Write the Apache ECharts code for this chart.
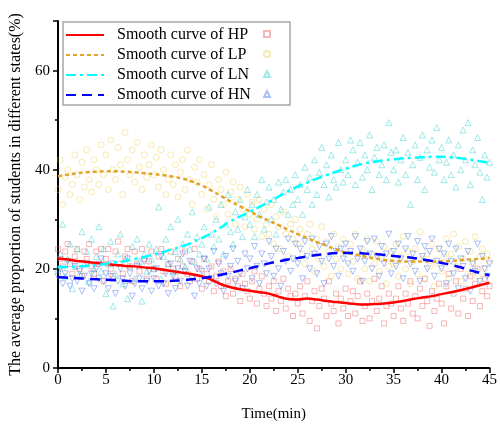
<!DOCTYPE html>
<html>
<head>
<meta charset="utf-8">
<script src="https://cdn.jsdelivr.net/npm/echarts@6/dist/echarts.min.js"></script>
<style>html,body{margin:0;padding:0;background:#fff}#c{width:500px;height:427px}</style>
</head>
<body>
<div id="c"></div>
<script>
// ---- data ----
const sampleStep = 0.25; // minutes between scatter samples (t = 0 ... 45)
const xTicks = [0, 5, 10, 15, 20, 25, 30, 35, 40, 45];
const yTicks = [0, 20, 40, 60];

const hpPoints = [
 24,22,20.5,23.5,25,21,19,22.5,24,20,18.5,23.5,22,25,20.5,19,23.5,21,24,17.5,
 22,24,20,18.5,23.5,25.5,21,19,22.5,24,20.5,17.5,23.5,21,19.5,24,22,18,21.5,23.5,
 20,18,22.5,24,19.5,17,21,23.5,20,18.5,22,16.5,20.5,23.5,19,17.5,21.5,24,18,20,
 16,22,19,17.5,20.5,15.5,18.5,21.5,16.5,19.5,14.5,17.5,20,15,18,16.5,13.5,19,17,15.5,
 14,17.5,19.5,13,16,18.5,15,12.5,16.5,14,17.5,11.5,15.5,13.5,18,12,16,14.5,10.5,15,
 13,16.5,11,14.5,17.5,9.5,13.5,15.5,8,12.5,16,14,10.5,17.5,13,11.5,15,9,14,12,
 16,10.5,13.5,15.5,11,14.5,17.5,9.5,12.5,15,10,13.5,18,11.5,14,16.5,9,12.5,15,13,
 10.5,14,16.5,12,9.5,15,13,17.5,11,14.5,10,16,12.5,18,13.5,8.5,15.5,11.5,14,17,
 13,9,16.5,19,12,15,17.5,11,20,14,16,10.5,18.5,13.5,17,20,12.5,15.5,18,14.5,
 16.5];
const lpPoints = [
 36,42,33,38.5,40,35,37,43,39,34,41.5,36.5,44,38,35.5,42,40,37,45,39,
 43,36,46,40,38,44.5,41,35,47.5,42,39,44,37.5,45.5,40.5,36,43,38.5,41,45,
 39,42.5,36.5,44,40,35,38,43,37,41,34.5,39.5,42,36,44,38,33,40.5,37.5,42,
 35,39,32,37,41,34,30.5,38,36,33,39.5,31,35.5,37.5,29,34,36.5,32,28.5,35,
 31,33.5,28,30,34,26.5,32,29,27,33,25,30.5,28.5,24,31.5,27,22.5,29,26,30,
 25,28,23,21,27,29,24,19.5,26,22,28.5,20.5,25.5,23.5,18.5,27,22,24.5,20,26,
 23,19,25,21.5,27,18,22.5,24,20,26,17.5,23,21,25.5,19.5,22,24.5,17,20.5,23.5,
 21,25,18.5,22.5,26.5,20,23.5,17,21.5,24,19,27.5,22,18,23,20.5,25,16.5,21,24,
 19.5,22.5,26,18,23,27,20.5,24.5,17.5,22,25.5,19,23.5,21,26.5,18.5,22.5,24,20,23,
 21.5];
const lnPoints = [
 20,23,29,18.5,22,25,16,20.5,24,19,27.5,21,23.5,17.5,26,20,22.5,28.5,19.5,24,
 15,21,25.5,12.5,19,23,27,17,22,14,20.5,24.5,18,26,21.5,13.5,23,19.5,25,22,
 20,24,32.5,18,22.5,26,21,28.5,19.5,23.5,30,22,25,20.5,27,24,31.5,21.5,26.5,23,
 25,28.5,22,32.5,27,24.5,30,26,33,23,29,35,27.5,25,31.5,28,34,26.5,30.5,36,
 29,33,26.5,35,31,38,28,33.5,36.5,30,34,27,37.5,32,35.5,38,31,36,33,39,
 34,37,31,40.5,36,38.5,33,42,35,39.5,44.5,37,41,34.5,43,38,36.5,45.5,40,37.5,
 42,39,46,44,37,41.5,45.5,38.5,43,40,47,36,42.5,44.5,39,41,45,38,49.5,43.5,
 40,44,37.5,42,46.5,39,43.5,33,41,45,38,42.5,47,36,44,40.5,46,39.5,48.5,42,
 44.5,38,41.5,46,39,43,36.5,45,40,48,42,49.5,37,44,41,46.5,39.5,34,43,38.5,
 41.5];
const hnPoints = [
 18.5,20,17,19,21.5,16.5,18,20.5,17.5,19.5,15.5,18.5,21,17,19,16,20,18,22,17.5,
 19,16,18.5,21,15,17.5,20,18,16.5,22,19,14.5,17,20.5,18,16,21.5,17.5,19.5,15.5,
 18,20,16.5,22.5,17,19,15,21,18.5,16,20,17.5,23,19.5,16.5,21.5,18,14.5,20,17,
 19.5,22,16.5,20,18,23.5,17,21,19,15.5,22.5,18.5,20.5,24,17.5,21.5,19,16,23,20,
 22,18,24.5,20.5,17,23,21,19,25.5,22.5,18.5,24,20,16.5,23.5,21.5,26,19.5,22,25,
 21,24,18,25.5,22.5,20,26,23,19,24.5,21.5,17,25,22,26.5,20.5,23.5,18.5,24,22,
 25,21,23.5,19.5,26.5,22,24,17.5,21.5,25.5,23,20,26,22.5,18.5,24.5,21,23,27,19,
 23.5,20.5,25,22,18,24,26.5,21,23,19.5,25.5,17.5,22.5,24.5,20,23.5,26,18.5,21.5,24,
 20,23,17,25,21.5,19,24,16,22,20.5,18,23.5,15.5,21,19.5,25,17.5,22.5,20,18.5,
 21];

// smooth curves, one value per minute (t = 0 ... 45)
const hpCurve = [22.1,21.9,21.6,21.4,21.2,21.0,20.8,20.6,20.5,20.3,20.1,19.8,19.5,19.2,18.9,18.5,17.8,16.9,16.3,15.9,15.6,15.3,15.0,14.4,13.9,13.8,14.0,13.8,13.5,13.3,13.1,12.9,12.8,12.9,13.0,13.2,13.5,13.9,14.2,14.5,14.9,15.3,15.7,16.2,16.7,17.2];
const lpCurve = [38.7,39.0,39.3,39.5,39.6,39.7,39.7,39.6,39.5,39.3,39.1,38.9,38.6,38.2,37.6,36.8,35.8,34.7,33.6,32.6,31.6,30.6,29.7,28.8,27.9,27.0,26.2,25.4,24.7,23.9,23.3,22.9,22.5,22.1,21.8,21.6,21.5,21.5,21.5,21.5,21.5,21.6,21.8,21.9,22.0,22.2];
const lnCurve = [20.3,20.4,20.5,20.6,20.8,21.0,21.3,21.6,22.0,22.4,22.9,23.4,24.0,24.6,25.3,26.2,27.2,28.4,29.6,30.6,31.5,32.5,33.5,34.6,35.7,36.6,37.4,38.2,38.9,39.6,40.2,40.8,41.3,41.6,41.9,42.1,42.3,42.4,42.5,42.6,42.6,42.5,42.3,42.0,41.7,41.4];
const hnCurve = [18.3,18.2,18.1,18.0,17.9,17.8,17.7,17.6,17.5,17.5,17.5,17.5,17.6,17.7,17.9,18.1,18.4,18.8,19.2,19.7,20.1,20.6,21.1,21.5,21.9,22.2,22.5,22.8,23.0,23.2,23.2,23.2,23.1,23.0,22.8,22.6,22.4,22.2,21.9,21.6,21.2,20.8,20.3,19.7,19.2,18.7];

const groups = ['HP', 'LP', 'LN', 'HN'];
const curveNames = groups.map(g => 'Smooth curve of ' + g);
// ---- end data ----

const FONT = 'Liberation Serif';
const pts = arr => arr.map((v, i) => [i * sampleStep, v]);
const crv = arr => arr.map((v, i) => [i, v]);

const scatterDefs = [
  {name: 'HP points', data: hpPoints, symbol: 'rect', rot: 0, color: 'rgba(240,90,90,0.55)', size: 5},
  {name: 'LP points', data: lpPoints, symbol: 'circle', rot: 0, color: 'rgba(236,200,60,0.5)', size: 6},
  {name: 'LN points', data: lnPoints, symbol: 'triangle', rot: 0, color: 'rgba(40,205,205,0.55)', size: 6},
  {name: 'HN points', data: hnPoints, symbol: 'triangle', rot: 180, color: 'rgba(60,110,235,0.55)', size: 6}
];
const curveDefs = [
  {data: hpCurve, color: '#ff0000', type: 'solid'},
  {data: lpCurve, color: '#e3a428', type: [4, 3]},
  {data: lnCurve, color: '#00ffff', type: [10, 4, 3, 4]},
  {data: hnCurve, color: '#0000ff', type: [10, 6]}
];

const series = [];
scatterDefs.forEach(s => series.push({
  type: 'scatter', name: s.name, data: pts(s.data), symbol: s.symbol, symbolRotate: s.rot,
  symbolSize: s.size, z: 2,
  itemStyle: {color: 'rgba(0,0,0,0)', borderColor: s.color, borderWidth: 1}
}));
curveDefs.forEach((c, i) => series.push({
  type: 'line', name: curveNames[i], data: crv(c.data), smooth: 0.4, symbol: 'none', z: 5,
  lineStyle: {color: c.color, width: 2.5, type: c.type}, itemStyle: {color: c.color}
}));

const chart = echarts.init(document.getElementById('c'), null, {renderer: 'canvas'});
chart.setOption({
  animation: false,
  backgroundColor: '#fff',
  textStyle: {fontFamily: FONT},
  grid: {left: 58, right: 9, top: 21, bottom: 56, containLabel: false},
  legend: [
    {
      data: curveNames, orient: 'vertical', left: 60, top: 22,
      itemWidth: 38, itemHeight: 14, itemGap: 4,
      itemStyle: {color: 'rgba(0,0,0,0)', borderColor: 'rgba(0,0,0,0)', borderWidth: 0},
      textStyle: {fontFamily: FONT, fontSize: 16, color: '#000', padding: [0, 0, 0, 8]},
      selectedMode: false
    },
    {
      data: scatterDefs.map(s => s.name), orient: 'vertical', left: 258, top: 25,
      itemWidth: 6, itemHeight: 6, itemGap: 12, formatter: () => '',
      textStyle: {fontSize: 1, lineHeight: 1}, selectedMode: false
    }
  ],
  graphic: [{
    type: 'rect', shape: {x: 63, y: 22, width: 227, height: 83}, z: 100, silent: true,
    style: {fill: 'none', stroke: '#a8a8a8', lineWidth: 1.5}
  }],
  xAxis: {
    type: 'value', min: 0, max: 45, interval: 5,
    name: 'Time(min)', nameLocation: 'middle', nameGap: 39,
    nameTextStyle: {fontFamily: FONT, fontSize: 15, color: '#000'},
    axisLine: {show: true, onZero: false, lineStyle: {color: '#000', width: 2}},
    axisTick: {show: true, length: 5, lineStyle: {color: '#000', width: 1.5}},
    minorTick: {show: true, splitNumber: 2, length: 3, lineStyle: {color: '#000', width: 1.5}},
    axisLabel: {fontFamily: FONT, fontSize: 15, color: '#000', margin: 5,
      formatter: v => xTicks.includes(v) ? String(v) : ''},
    splitLine: {show: false}
  },
  yAxis: {
    type: 'value', min: 0, max: 70, interval: 20,
    name: 'The average proportion of students in different states(%)',
    nameLocation: 'middle', nameGap: 25, nameRotate: 90,
    nameTextStyle: {fontFamily: FONT, fontSize: 16, color: '#000'},
    axisLine: {show: true, onZero: false, lineStyle: {color: '#000', width: 2}},
    axisTick: {show: true, length: 5, lineStyle: {color: '#000', width: 1.5}},
    minorTick: {show: true, splitNumber: 2, length: 3, lineStyle: {color: '#000', width: 1.5}},
    axisLabel: {fontFamily: FONT, fontSize: 15, color: '#000', margin: 8,
      formatter: v => yTicks.includes(v) ? String(v) : ''},
    splitLine: {show: false}
  },
  series: series
});
</script>
</body>
</html>
